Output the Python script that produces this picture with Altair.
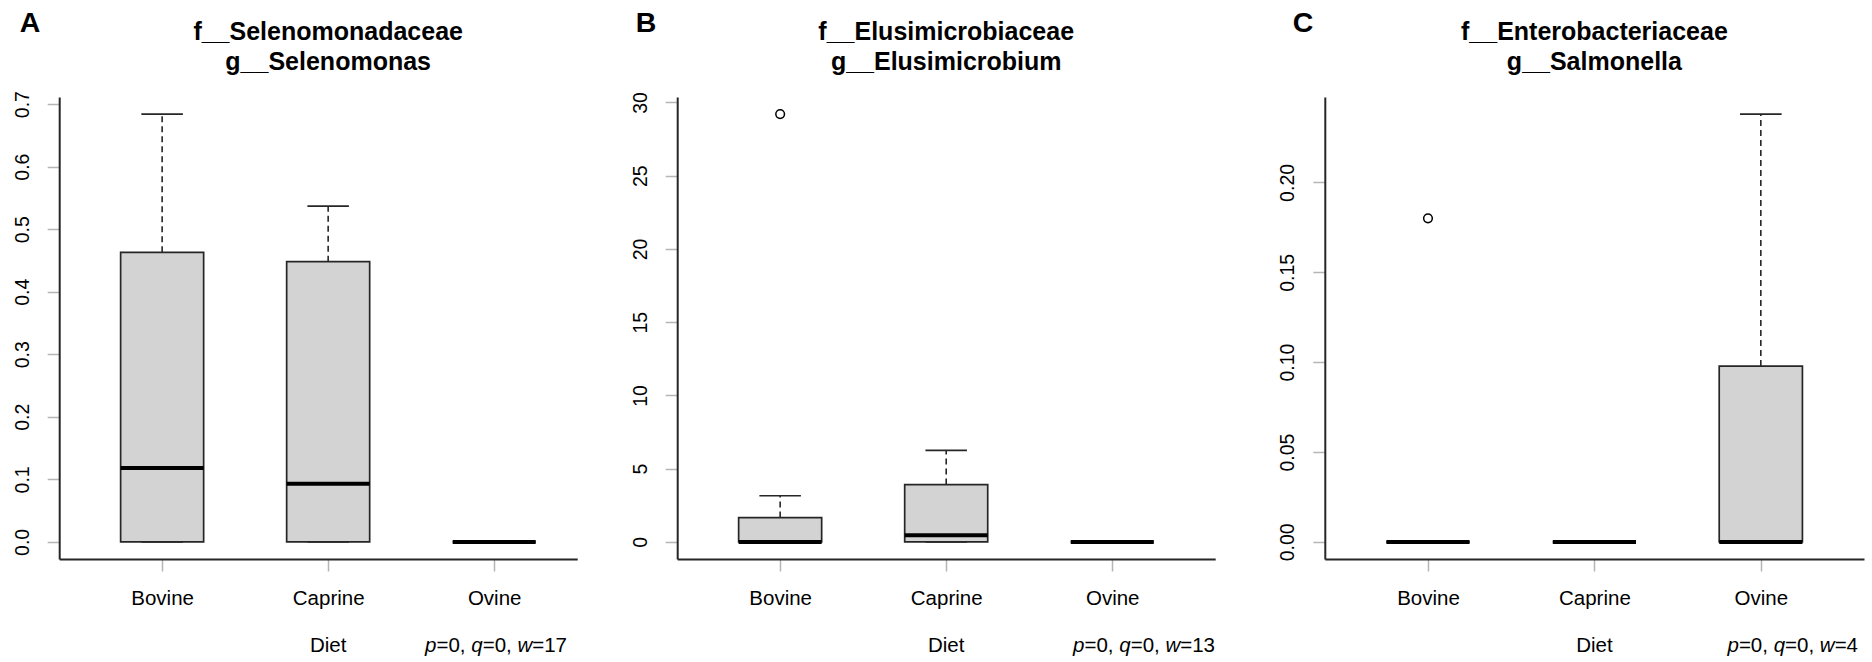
import altair as alt
import pandas as pd

# ------------------------------------------------------------------ data
diets = ["Bovine", "Caprine", "Ovine"]
diet_pos = [1, 2, 3]

panel_letters = ["A", "B", "C"]
family_names = ["f__Selenomonadaceae", "f__Elusimicrobiaceae", "f__Enterobacteriaceae"]
genus_names = ["g__Selenomonas", "g__Elusimicrobium", "g__Salmonella"]
p_vals = ["0", "0", "0"]
q_vals = ["0", "0", "0"]
w_vals = ["17", "13", "4"]

# Panel A  (f__Selenomonadaceae / g__Selenomonas)
a_lower = [0.0, 0.0, 0.0]
a_q1 = [0.0, 0.0, 0.0]
a_median = [0.118, 0.093, 0.0]
a_q3 = [0.463, 0.448, 0.0]
a_upper = [0.684, 0.537, 0.0]
a_out_diet = []
a_out_value = []
a_ticks = [0.0, 0.1, 0.2, 0.3, 0.4, 0.5, 0.6, 0.7]

# Panel B  (f__Elusimicrobiaceae / g__Elusimicrobium)
b_lower = [0.0, 0.0, 0.0]
b_q1 = [0.0, 0.0, 0.0]
b_median = [0.0, 0.46, 0.0]
b_q3 = [1.66, 3.91, 0.0]
b_upper = [3.15, 6.25, 0.0]
b_out_diet = ["Bovine"]
b_out_value = [29.2]
b_ticks = [0, 5, 10, 15, 20, 25, 30]

# Panel C  (f__Enterobacteriaceae / g__Salmonella)
c_lower = [0.0, 0.0, 0.0]
c_q1 = [0.0, 0.0, 0.0]
c_median = [0.0, 0.0, 0.0]
c_q3 = [0.0, 0.0, 0.0978]
c_upper = [0.0, 0.0, 0.238]
c_out_diet = ["Bovine"]
c_out_value = [0.180]
c_ticks = [0.0, 0.05, 0.10, 0.15, 0.20]

# ------------------------------------------------------------------ layout / style
W, H = 1872, 662
PLOT_TOP, PLOT_BOTTOM = 97, 559
panel_x_range = [(59.2, 577.2), (677.2, 1215.2), (1324.8, 1864.0)]
panel_x_domain = [(0.38, 3.5), (0.38, 3.62), (0.38, 3.62)]
letter_x = [30, 646, 1303]
ptext_right = [567, 1215, 1858]

FONT = "Liberation Sans"
AXIS_FS = 20.5
TITLE_FS = 25
LINE_COL = "#262626"
TICK_COL = "#b5b5b5"
BOX_FILL = "#d3d3d3"

# Arial / Liberation Sans advance widths (1/1000 em) for the stats line
CHAR_W = {"p": 556, "q": 556, "w": 722, "=": 584, ",": 278, " ": 278}
for d in "0123456789":
    CHAR_W[d] = 556


def text_width(s, fs):
    return sum(CHAR_W.get(ch, 556) for ch in s) * fs / 1000.0


def one_text(txt, x, y, fs, weight="normal", style="normal", align="center"):
    return alt.Chart(pd.DataFrame({"t": [txt]})).mark_text(
        font=FONT, fontSize=fs, fontWeight=weight, fontStyle=style,
        align=align, baseline="middle", color="black"
    ).encode(x=alt.value(x), y=alt.value(y), text="t:N")


def make_panel(k, lower, q1, med, q3, upper, out_d, out_v, ticks, fmt):
    xr = panel_x_range[k]
    xd = panel_x_domain[k]
    df = pd.DataFrame({"diet": diets, "pos": diet_pos, "lower": lower, "q1": q1,
                       "median": med, "q3": q3, "upper": upper})
    vals = list(lower) + list(upper) + list(out_v)
    lo, hi = min(vals), max(vals)
    ext = 0.04 * (hi - lo)
    xs = alt.Scale(domain=list(xd), range=list(xr), nice=False, zero=False)
    ys = alt.Scale(domain=[lo - ext, hi + ext], range=[PLOT_BOTTOM, PLOT_TOP],
                   nice=False, zero=False)
    label_expr = "[" + ",".join("'%s'" % d for d in diets) + "][datum.value - 1]"
    xaxis = alt.Axis(orient="bottom", offset=PLOT_BOTTOM - H, values=diet_pos,
                     labelExpr=label_expr, title=None, grid=False,
                     domainColor=LINE_COL, domainWidth=2, tickColor=TICK_COL,
                     tickWidth=1.5, tickSize=12, labelFont=FONT,
                     labelFontSize=AXIS_FS, labelColor="black", labelPadding=27,
                     labelBaseline="middle", labelAlign="center", labelAngle=0,
                     labelOverlap=False, labelFlush=False)
    yaxis = alt.Axis(orient="left", offset=-xr[0], values=ticks, format=fmt,
                     title=None, grid=False, domainColor=LINE_COL, domainWidth=2,
                     tickColor=TICK_COL, tickWidth=1.5, tickSize=12,
                     labelFont=FONT, labelFontSize=19.5, labelColor="black",
                     labelAngle=270, labelAlign="center", labelBaseline="middle",
                     labelPadding=25, labelOverlap=False, labelFlush=False)

    base = alt.Chart(df).transform_calculate(
        xl="datum.pos - 0.25", xh="datum.pos + 0.25",
        cl="datum.pos - 0.125", ch="datum.pos + 0.125")

    box = base.mark_rect(fill=BOX_FILL, stroke=LINE_COL, strokeWidth=1.7).encode(
        x=alt.X("xl:Q", scale=xs, axis=xaxis), x2="xh:Q",
        y=alt.Y("q1:Q", scale=ys, axis=yaxis), y2="q3:Q")
    wh_up = base.mark_rule(color=LINE_COL, strokeWidth=1.6, strokeDash=[6, 4]).encode(
        x=alt.X("pos:Q", scale=xs, axis=xaxis),
        y=alt.Y("q3:Q", scale=ys, axis=yaxis), y2="upper:Q")
    wh_lo = base.mark_rule(color=LINE_COL, strokeWidth=1.6, strokeDash=[6, 4]).encode(
        x=alt.X("pos:Q", scale=xs, axis=xaxis),
        y=alt.Y("lower:Q", scale=ys, axis=yaxis), y2="q1:Q")
    cap_up = base.mark_rule(color=LINE_COL, strokeWidth=1.7).encode(
        x=alt.X("cl:Q", scale=xs, axis=xaxis), x2="ch:Q",
        y=alt.Y("upper:Q", scale=ys, axis=yaxis))
    cap_lo = base.mark_rule(color=LINE_COL, strokeWidth=1.7).encode(
        x=alt.X("cl:Q", scale=xs, axis=xaxis), x2="ch:Q",
        y=alt.Y("lower:Q", scale=ys, axis=yaxis))
    median = base.mark_rule(color="black", strokeWidth=4, strokeCap="butt").encode(
        x=alt.X("xl:Q", scale=xs, axis=xaxis), x2="xh:Q",
        y=alt.Y("median:Q", scale=ys, axis=yaxis))
    layers = [box, wh_up, wh_lo, cap_up, cap_lo, median]
    if len(out_v) > 0:
        odf = pd.DataFrame({"diet": out_d, "value": out_v})
        diet_arr = "[" + ",".join("'%s'" % d for d in diets) + "]"
        outl = alt.Chart(odf).transform_calculate(
            pos="indexof(%s, datum.diet) + 1" % diet_arr
        ).mark_point(shape="circle", filled=False, color="black", size=75,
                     strokeWidth=1.5, opacity=1).encode(
            x=alt.X("pos:Q", scale=xs, axis=xaxis),
            y=alt.Y("value:Q", scale=ys, axis=yaxis))
        layers.append(outl)
    panel = alt.layer(*layers)

    # texts
    px_per_unit = (xr[1] - xr[0]) / (xd[1] - xd[0])
    cx = xr[0] + (2 - xd[0]) * px_per_unit
    texts = [
        one_text(panel_letters[k], letter_x[k], 22.5, 28.5, weight="bold"),
        one_text(family_names[k], cx, 31.7, TITLE_FS, weight="bold"),
        one_text(genus_names[k], cx, 61.7, TITLE_FS, weight="bold"),
        one_text("Diet", cx, 646, AXIS_FS),
    ]
    segs = [("p", True), ("=" + p_vals[k] + ", ", False), ("q", True),
            ("=" + q_vals[k] + ", ", False), ("w", True), ("=" + w_vals[k], False)]
    total = sum(text_width(s, AXIS_FS) for s, _ in segs)
    x0 = ptext_right[k] - total
    for s, it in segs:
        texts.append(one_text(s, x0, 646, AXIS_FS,
                              style="italic" if it else "normal", align="left"))
        x0 += text_width(s, AXIS_FS)
    return panel, texts


pA, tA = make_panel(0, a_lower, a_q1, a_median, a_q3, a_upper, a_out_diet, a_out_value, a_ticks, ".1f")
pB, tB = make_panel(1, b_lower, b_q1, b_median, b_q3, b_upper, b_out_diet, b_out_value, b_ticks, "d")
pC, tC = make_panel(2, c_lower, c_q1, c_median, c_q3, c_upper, c_out_diet, c_out_value, c_ticks, ".2f")

chart = alt.layer(pA, pB, pC, *tA, *tB, *tC).resolve_scale(
    x="independent", y="independent"
).properties(
    width=W, height=H, padding=0,
    autosize=alt.AutoSizeParams(type="none"),
    background="white",
).configure_view(stroke=None)

chart.save("out.html", embed_options={"renderer": "svg", "actions": False})
